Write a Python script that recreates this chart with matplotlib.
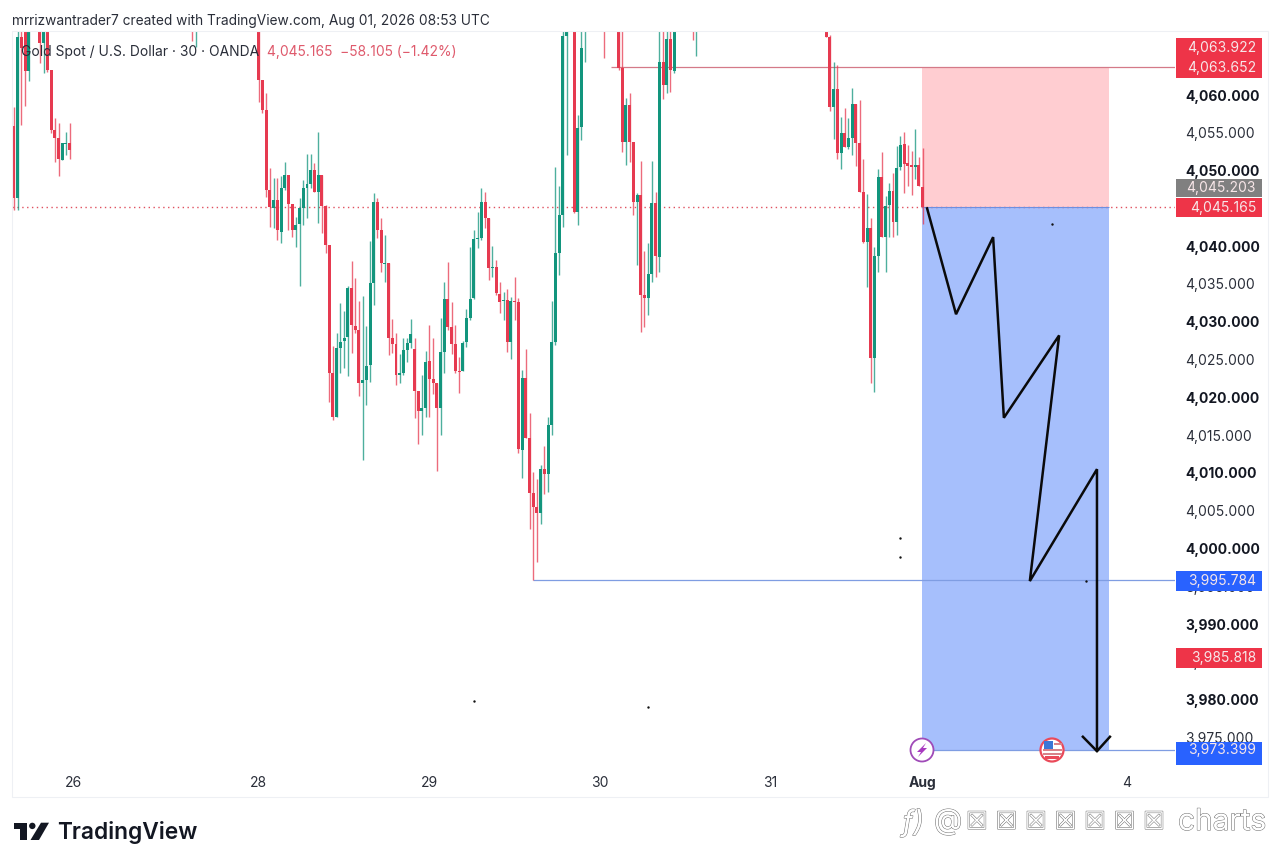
"""Gold Spot / USD 30m TradingView snapshot with a short position drawn on it."""
import numpy as np
import matplotlib
matplotlib.use("Agg")
import matplotlib.pyplot as plt
from matplotlib import patheffects as pe
from matplotlib.patches import Circle, Polygon, Rectangle

# bar number on the time axis; bars hidden above the top of the pane are left out
bars = ([0, 1, 2, 3, 4, 7, 8, 9, 10, 11, 12, 13, 14, 15, 48, 49]
        + list(range(66, 150))
        + [151, 152, 153, 154, 159] + list(range(163, 179)) + [183, 184]
        + list(range(219, 246)))

opens = [
    4055.9, 4046.4, 4067.7, 4070, 4063.2, 4070, 4066.9, 4070, 4063.3, 4055.4, 4054.3, 4051.4, 4053.5, 4053.6, 4072, 4071,
    4070, 4062.0, 4058.0, 4047.4, 4045.1, 4046.1, 4041.9, 4047.7, 4049.4, 4045.6,
    4042.1, 4042.9, 4045.1, 4047.7, 4048.2, 4050.1, 4047.2, 4049.4, 4045.3, 4040.2,
    4023.2, 4017.4, 4026.5, 4027.5, 4028.0, 4034.5, 4029.4, 4028.9, 4021.9, 4022.3,
    4024.3, 4035.1, 4045.8, 4042.1, 4037.6, 4037.8, 4027.9, 4027.1, 4023.0, 4023.2,
    4026.3, 4027.2, 4026.4, 4020.8, 4018.2, 4018.6, 4024.8, 4022.4, 4021.9, 4018.6,
    4026.0, 4033.0, 4029.3, 4027.1, 4023.5, 4023.5, 4027.3, 4030.5, 4033.1, 4040.9,
    4041.1, 4045.8, 4043.7, 4037.1, 4037.2, 4033.7, 4032.7, 4032.9, 4027.3, 4032.7,
    4032.6, 4013.0, 4022.6, 4014.6, 4007.3, 4005.5, 4004.7, 4010.5, 4009.9, 4016.3,
    4027.3, 4039.1, 4044.1, 4067.8,
    4070, 4044.5, 4055.8, 4071, 4072, 4070, 4063.6, 4053.8, 4058.7, 4053.8, 4045.8, 4046.8,
    4033.5, 4033.1, 4036.3, 4045.7, 4038.6, 4064.4, 4061.3, 4067.4, 4063.2, 4072, 4071,
    4070, 4067.7, 4058.4, 4060.8, 4052.3, 4055.0, 4053.1, 4054.3, 4058.8, 4053.6, 4047.2, 4040.6, 4042.4, 4025.2,
    4038.7, 4049.2, 4041.2, 4045.4, 4047.3, 4043.2, 4050.5, 4053.5, 4051.0, 4050.7, 4050.5, 4050.7, 4047.8,
]
highs = [
    4058.4, 4070, 4070, 4070, 4070, 4070, 4070, 4070, 4063.3, 4057.0, 4056.3, 4053.6, 4055.1, 4056.3, 4072, 4072,
    4070, 4062.0, 4060.3, 4050.3, 4049.0, 4049.0, 4049.3, 4051.1, 4049.4, 4045.6,
    4043.9, 4046.4, 4048.8, 4052.2, 4052.2, 4051.0, 4055.1, 4049.4, 4045.4, 4040.2,
    4026.8, 4028.5, 4032.5, 4031.4, 4034.7, 4038.0, 4035.8, 4032.7, 4033.4, 4029.4,
    4040.7, 4047.0, 4046.4, 4043.7, 4041.5, 4037.8, 4030.4, 4028.5, 4025.7, 4027.9,
    4027.9, 4030.4, 4027.9, 4020.8, 4023.0, 4026.1, 4029.6, 4027.9, 4021.9, 4030.5,
    4035.3, 4037.9, 4032.6, 4029.6, 4025.3, 4027.5, 4031.7, 4039.9, 4042.1, 4044.5,
    4047.7, 4047.2, 4043.7, 4040.0, 4038.2, 4035.3, 4033.9, 4034.3, 4033.3, 4035.9,
    4033.1, 4023.6, 4026.4, 4017.9, 4010.1, 4009.2, 4011.0, 4013.6, 4017.4, 4032.7,
    4050.5, 4048.0, 4070, 4070,
    4070, 4057.4, 4070, 4072, 4072, 4070, 4070, 4059.6, 4060.3, 4053.8, 4047.0, 4051.3,
    4039.4, 4040.4, 4051.3, 4047.2, 4070, 4070, 4070, 4070, 4070, 4072, 4072,
    4070, 4068, 4064.4, 4064.0, 4057.1, 4058.3, 4057.0, 4060.9, 4058.8, 4059.3, 4051.5, 4046.9, 4043.7, 4039.9,
    4050.2, 4052.5, 4046.6, 4048.4, 4049.7, 4053.3, 4054.6, 4055.1, 4053.4, 4052.6, 4055.5, 4051.8, 4053.0,
]
lows = [
    4044.8, 4044.8, 4056.0, 4058.5, 4061.9, 4064.2, 4062.9, 4063.0, 4055.0, 4051.1, 4049.3, 4051.4, 4052.1, 4051.5, 4067.1, 4066.4,
    4059.1, 4057.6, 4046.5, 4042.5, 4042.4, 4040.8, 4040.4, 4047.4, 4042.1, 4041.2,
    4039.9, 4034.7, 4042.8, 4043.7, 4047.7, 4047.2, 4043.1, 4041.7, 4039.1, 4019.4,
    4017.0, 4017.4, 4023.2, 4023.9, 4022.8, 4025.9, 4028.5, 4020.2, 4011.7, 4019.0,
    4022.0, 4032.2, 4041.1, 4036.6, 4035.3, 4025.6, 4025.9, 4021.6, 4021.9, 4023.0,
    4024.7, 4026.5, 4017.3, 4013.8, 4015.0, 4017.4, 4017.4, 4020.4, 4010.3, 4015.0,
    4023.2, 4028.9, 4025.7, 4023.2, 4020.6, 4023.5, 4026.7, 4030.2, 4033.0, 4039.8,
    4040.8, 4042.4, 4035.5, 4035.9, 4033.5, 4031.2, 4030.2, 4026.0, 4025.1, 4030.2,
    4012.6, 4009.3, 4014.6, 4002.6, 3995.8, 3998.2, 4003.2, 4007.2, 4007.5, 4015.0,
    4026.9, 4036.2, 4042.5, 4052.1,
    4044.4, 4042.8, 4054.0, 4064.4, 4064.9, 4063.3, 4052.5, 4050.7, 4051.1, 4044.1, 4037.5, 4028.6,
    4029.3, 4030.9, 4035.3, 4035.9, 4036.6, 4059.5, 4060.3, 4060.4, 4062.9, 4067.3, 4065.2,
    4067.7, 4057.9, 4054.2, 4051.5, 4050.2, 4053.1, 4052.9, 4052.1, 4050.6, 4047.2, 4040.4, 4034.6, 4021.9, 4020.7,
    4036.6, 4041.2, 4036.6, 4041.2, 4041.2, 4041.5, 4050.1, 4047.0, 4048.0, 4046.8, 4048.9, 4048.0, 4042.9,
]
closes = [
    4046.4, 4067.7, 4066.2, 4063.2, 4070, 4066.9, 4070, 4063.3, 4055.4, 4054.3, 4051.5, 4053.6, 4053.7, 4052.7, 4071, 4072,
    4062.0, 4058.0, 4047.4, 4045.2, 4046.1, 4042.1, 4047.7, 4049.4, 4045.6, 4042.1,
    4042.8, 4045.1, 4047.7, 4048.2, 4050.1, 4047.2, 4049.4, 4045.3, 4040.2, 4023.2,
    4017.4, 4026.5, 4027.3, 4027.9, 4034.5, 4029.6, 4028.9, 4021.9, 4022.3, 4024.1,
    4035.1, 4045.8, 4042.1, 4037.8, 4037.8, 4027.9, 4027.1, 4023.0, 4023.2, 4026.3,
    4027.2, 4028.4, 4020.8, 4018.2, 4018.6, 4024.7, 4022.4, 4021.9, 4018.6, 4026.0,
    4033.0, 4029.3, 4027.1, 4023.5, 4023.4, 4027.2, 4030.5, 4033.0, 4040.9, 4041.1,
    4045.8, 4043.7, 4037.1, 4037.2, 4033.8, 4032.6, 4032.9, 4027.3, 4032.7, 4032.6,
    4013.2, 4022.6, 4014.6, 4007.3, 4005.5, 4004.7, 4010.5, 4009.9, 4016.3, 4027.3,
    4039.1, 4044.1, 4067.8, 4070,
    4044.5, 4055.6, 4066.2, 4072, 4071, 4063.6, 4053.8, 4058.7, 4053.8, 4045.8, 4046.8, 4033.5,
    4033.1, 4036.3, 4045.7, 4038.7, 4064.4, 4061.3, 4067.4, 4063.3, 4070, 4071, 4072,
    4067.7, 4058.4, 4060.8, 4052.3, 4055.0, 4053.1, 4054.3, 4058.8, 4053.6, 4047.2, 4040.6, 4042.4, 4025.2, 4038.7,
    4049.2, 4041.2, 4045.3, 4047.3, 4043.2, 4050.3, 4053.4, 4050.9, 4050.6, 4050.5, 4050.7, 4048.0, 4045.165,
]

day_ticks = [16, 66, 112, 158, 204, 245, 300]
day_labels = ["26", "28", "29", "30", "31", "Aug", "4"]
price_ticks = list(range(3975, 4066, 5))

# short position and its levels
entry, stop, target = 4045.165, 4063.652, 3973.399
swing_low = 3995.784
pos_start, pos_end = 244.8, 295.2
# hand drawn projection
pen_x = [246.2, 254.0, 264.0, 266.9, 281.8, 273.9, 292.0, 292.0]
pen_y = [4045.0, 4031.0, 4041.2, 4017.3, 4028.2, 3995.7, 4010.5, 3973.3]
head_x = [288.2, 292.0, 295.5]
head_y = [3975.1, 3973.2, 3975.1]
dot_x = [279.9, 238.9, 238.9, 289.0, 124.0, 170.9]
dot_y = [4042.9, 4001.4, 3998.9, 3995.7, 3979.8, 3979.0]

# price axis tags: text, centre price, half height, colour
tag_text = ["4,063.922", "4,063.652", "4,045.203", "4,045.165", "3,995.784", "3,985.818", "3,973.399"]
tag_mid = [4066.2, 4063.6, 4047.7, 4045.1, 3995.7, 3985.5, 3972.9]
tag_half = [1.3, 1.3, 1.25, 1.3, 1.3, 1.3, 1.55]
tag_col = ["#ee3448", "#ee3448", "#808080", "#ee3448", "#2962ff", "#ee3448", "#2962ff"]

RED, GREEN = "#e63a50", "#12957d"
FONT = ["Inter", "DejaVu Sans"]
plt.rcParams["font.family"] = FONT
W, H = 1280, 867


def fx(x, y):
    return x / W, 1 - y / H


fig = plt.figure(figsize=(W / 100, H / 100), dpi=100, facecolor="white")
fig.add_artist(Rectangle(fx(12, 797), 1256 / W, 766 / H, fc="none", ec="#eef0f4", lw=0.8,
                         transform=fig.transFigure))
ax = fig.add_axes([12 / W, 1 - 767 / H, 1163 / W, 736 / H])
ax.set_xlim(-0.54, 313.04)
ax.set_ylim(3971.1, 4068.47)
ax.patch.set_alpha(0)
for s in ax.spines.values():
    s.set_visible(False)

b = np.array(bars, dtype=float)
o, h, l, c = map(np.array, (opens, highs, lows, closes))
col = np.where(c >= o, GREEN, RED)
ax.vlines(b, l, h, colors=col, lw=1.0, alpha=0.75, zorder=3)
ax.bar(b, np.abs(c - o), bottom=np.minimum(o, c), width=0.8, color=col, lw=0, zorder=3.2)

ax.add_patch(Rectangle((pos_start, entry), pos_end - pos_start, stop - entry, fc="#ffcdd1", ec="none", zorder=2))
ax.add_patch(Rectangle((pos_start, target), pos_end - pos_start, entry - target, fc="#a6bffc", ec="none", zorder=2))
ax.hlines(stop, 161, 313.04, colors="#d47a88", lw=0.9, zorder=2.5)
ax.hlines(swing_low, 140, 313.04, colors="#7f9de2", lw=0.9, zorder=2.5)
ax.hlines(target, 245, 313.04, colors="#7f9de2", lw=0.9, zorder=2.5)
ax.hlines(entry, -0.54, 313.04, colors="#e0505f", lw=1.0, ls=(0, (1, 2.5)), zorder=2.4)
ax.hlines(entry, pos_start, pos_end, colors="#6d8fe0", lw=0.8, zorder=2.5)

ax.plot(pen_x, pen_y, color="#0a0a0a", lw=1.8, solid_joinstyle="miter", zorder=4)
ax.plot(head_x, head_y, color="#0a0a0a", lw=1.8, solid_joinstyle="miter", zorder=4)
ax.scatter(dot_x, dot_y, s=3, color="#111111", lw=0, zorder=4)

ax.set_xticks(day_ticks, day_labels)
ax.tick_params(axis="x", length=0, pad=6.5, labelsize=10, labelcolor="#2a2e39")
ax.get_xticklabels()[5].set_fontweight("bold")
ax.yaxis.tick_right()
ax.set_yticks(price_ticks, [f"{p:,.3f}" for p in price_ticks])
ax.tick_params(axis="y", length=0, pad=7.5, labelsize=10, labelcolor="#2a2e39")
for lab, p in zip(ax.get_yticklabels(), price_ticks):
    if p % 10 == 0:
        lab.set_fontweight("bold")
        lab.set_color("#131722")

# tags sit on top of the price scale, hiding the ticks under them
tag_x0, tag_x1 = 313.3, 336.5
for mid, half, colr in zip(tag_mid, tag_half, tag_col):
    ax.add_patch(Rectangle((tag_x0, mid - half), tag_x1 - tag_x0, 2 * half, fc=colr, ec="none",
                           clip_on=False, zorder=6))
for txt, mid in zip(tag_text, tag_mid):
    ypos = mid + 0.5 if txt == "3,973.399" else mid
    ax.text(tag_x1 - 1.6, ypos, txt, color="#f7e6e8", fontsize=10, ha="right", va="center",
            clip_on=False, zorder=7)

# event icons on the time scale, logo: plain pixel overlay
icon = fig.add_axes([0, 0, 1, 1], facecolor="none")
icon.set_xlim(0, W)
icon.set_ylim(H, 0)
icon.axis("off")
icon.add_patch(Circle((922, 750), 11.5, fc="white", ec="#a04bb8", lw=1.3))
icon.add_patch(Polygon([(926, 743), (917, 752), (921, 752), (918, 757), (927, 748), (923, 748)],
                       fc="#a83ac0", ec="none"))
icon.add_patch(Circle((1052, 750), 11.5, fc="white", ec="#ea4a5a", lw=1.6))
icon.add_patch(Rectangle((1044, 741), 9, 8, fc="#3a76d6", ec="none"))
for yy in (749, 753):
    icon.add_patch(Rectangle((1043, yy), 19, 1.6, fc="#d8828a", ec="none"))
icon.add_patch(Rectangle((1054, 743), 8, 2, fc="#d8828a", ec="none"))
icon.add_patch(Rectangle((1045, 756), 14, 3, fc="#ea4a5a", ec="none"))

icon.add_patch(Polygon([(14, 822.7), (27.3, 822.7), (27.3, 840), (20, 840), (20, 829.3), (14, 829.3)],
                       fc="#131722", ec="none"))
icon.add_patch(Circle((32.3, 825.9), 3.2, fc="#131722", ec="none"))
icon.add_patch(Polygon([(49, 822.7), (39, 840), (30.5, 840), (41, 822.7)], fc="#131722", ec="none"))

fig.text(12 / W, 1 - 20.5 / H, "mrrizwantrader7 created with TradingView.com, Aug 01, 2026 08:53 UTC",
         fontsize=9.9, color="#2a2e39", va="center")
fig.text(21 / W, 1 - 52 / H, "Gold Spot / U.S. Dollar · 30 · OANDA", fontsize=9.95, color="#2a2e39",
         va="center", zorder=8)
fig.text(267 / W, 1 - 52 / H, "4,045.165  −58.105 (−1.42%)", fontsize=9.95, color="#df5a6c", va="center", zorder=8)
fig.text(57 / W, 1 - 832 / H, "TradingView", fontsize=16.4, fontweight="semibold", color="#131722", va="center")

emboss = [pe.withStroke(linewidth=0.7, foreground="#6c6c6c")]
fig.text(902 / W, 1 - 823 / H, "ƒ)", fontsize=21, color="white", va="center", style="italic",
         path_effects=emboss)
fig.text(934 / W, 1 - 822 / H, "@", fontsize=21, color="white", va="center", path_effects=emboss)
fig.text(966 / W, 1 - 822 / H, "☒ ☒ ☒ ☒ ☒ ☒ ☒", fontsize=17.5, color="white", va="center",
         family="DejaVu Sans", path_effects=emboss)
fig.text(1178 / W, 1 - 822 / H, "charts", fontsize=21.5, color="white", va="center", path_effects=emboss)

fig.savefig("out.png", dpi=100)
